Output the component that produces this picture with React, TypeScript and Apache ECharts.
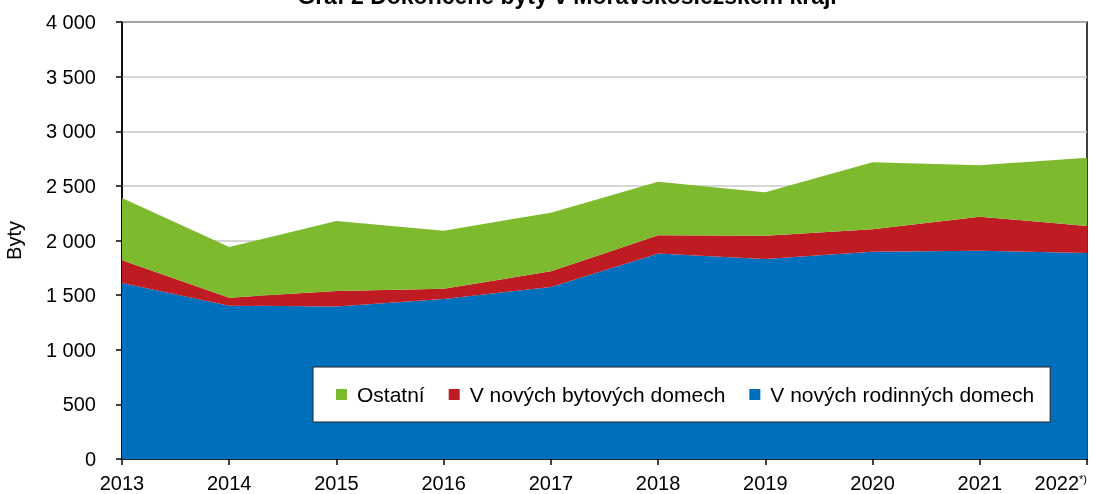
import React, { useEffect, useRef } from "react";
import * as echarts from "echarts";

const years = ["2013", "2014", "2015", "2016", "2017", "2018", "2019", "2020", "2021", "2022"];
const rodinne = [1611, 1403, 1397, 1464, 1574, 1880, 1831, 1898, 1907, 1886];
const bytove = [208, 74, 141, 95, 144, 167, 213, 204, 311, 247];
const ostatni = [571, 464, 640, 531, 537, 491, 397, 614, 470, 625];
const seriesNames = ["V nových rodinných domech", "V nových bytových domech", "Ostatní"];
const legendOrder = ["Ostatní", "V nových bytových domech", "V nových rodinných domech"];
const colors = ["#0070BC", "#BE1B23", "#7EBA2E"];
const title = "Graf 2 Dokončené byty v Moravskoslezském kraji";

const fmt = (v: number) => {
  const s = String(v);
  if (s.length > 3) return s.slice(0, s.length - 3) + " " + s.slice(-3);
  return s;
};

export default function App() {
  const ref = useRef<HTMLDivElement>(null);
  useEffect(() => {
    if (!ref.current) return;
    const chart = echarts.init(ref.current, undefined, { renderer: "svg" });
    const font = "Arial, 'Liberation Sans', sans-serif";
    const data = [rodinne, bytove, ostatni];
    chart.setOption({
      animation: false,
      textStyle: { fontFamily: font },
      title: {
        text: title,
        left: 567,
        textAlign: "center",
        top: -16,
        padding: 0,
        textStyle: { fontSize: 23, fontWeight: "bold", color: "#000", fontFamily: font },
      },
      grid: {
        left: 122,
        right: 7,
        top: 22,
        bottom: 35,
        show: true,
        borderColor: "#000",
        borderWidth: 1.5,
        outerBoundsMode: "none",
        containLabel: false,
      },
      legend: {
        data: legendOrder,
        left: 313,
        top: 367,
        backgroundColor: "#fff",
        borderColor: "#222",
        borderWidth: 1,
        padding: [17, 16, 17, 23],
        itemGap: 24,
        itemWidth: 11,
        itemHeight: 11,
        icon: "rect",
        textStyle: { fontSize: 21, color: "#000", fontFamily: font, padding: [0, 0, 0, 5] },
      },
      xAxis: {
        type: "category",
        data: years,
        boundaryGap: false,
        axisLine: { lineStyle: { color: "#000", width: 1.5 } },
        axisTick: { show: true, length: 6, interval: 0, lineStyle: { color: "#000", width: 1.5 } },
        axisLabel: {
          color: "#000",
          fontSize: 20,
          margin: 14,
          interval: 0,
          hideOverlap: false,
          alignMaxLabel: "right",
          formatter: (v: string, i: number) => (i === years.length - 1 ? "{num|" + v + "}{sup|*)}" : v),
          rich: {
            num: { fontSize: 20, lineHeight: 20, color: "#000", fontFamily: font },
            sup: { fontSize: 11, lineHeight: 11, verticalAlign: "top", padding: [0, 0, 5, 0], color: "#000", fontFamily: font },
          },
        },
      },
      yAxis: {
        type: "value",
        min: 0,
        max: 4000,
        interval: 500,
        name: "Byty",
        nameLocation: "middle",
        nameGap: 98,
        nameTextStyle: { fontSize: 20, color: "#000" },
        axisLine: { show: true, lineStyle: { color: "#000", width: 1.5 } },
        axisTick: { show: true, length: 6, lineStyle: { color: "#000", width: 1.5 } },
        axisLabel: { color: "#000", fontSize: 20, margin: 26, formatter: (v: number) => fmt(v) },
        splitLine: { lineStyle: { color: "#C8C8C8", width: 1.5 } },
      },
      series: seriesNames.map((name, i) => ({
        name,
        type: "line",
        stack: "total",
        data: data[i],
        symbol: "none",
        lineStyle: { width: 0 },
        itemStyle: { color: colors[i] },
        areaStyle: { color: colors[i], opacity: 1 },
      })),
    });
    return () => chart.dispose();
  }, []);
  return <div ref={ref} style={{ position: "fixed", left: 0, top: 0, width: 1094, height: 494 }} />;
}
